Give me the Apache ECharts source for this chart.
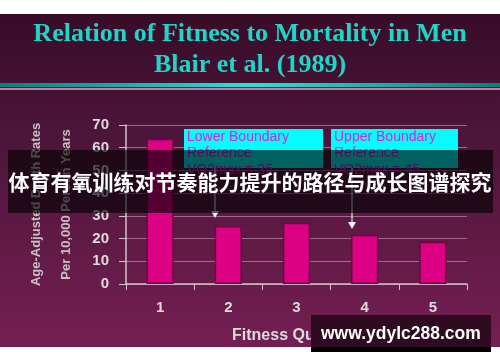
<!DOCTYPE html>
<html><head><meta charset="utf-8">
<script src="https://cdn.jsdelivr.net/npm/echarts@6/dist/echarts.min.js"></script>
<style>
html,body{margin:0;padding:0;background:#fff;}
#c{width:500px;height:362px;background:linear-gradient(to bottom,#fff 0,#fff 14px,#380c28 14px,#4a1438 120px,#741f52 347px,#fff 347px,#fff 362px);}
</style></head><body><div id="c"></div>
<script>
var categories = ['1','2','3','4','5'];
var deathRates = [64, 25.5, 27, 21.7, 18.6];
var yTicks = {min:0, max:70, interval:10};
var titleLines = ['Relation of Fitness to Mortality in Men','Blair et al. (1989)'];
var yNames = ['Age-Adjusted Death Rates','Per 10,000 Person Years'];
var xName = 'Fitness Quintiles';
var lowerBox = ['Lower Boundary','Reference','VO2max = 35'];
var upperBox = ['Upper Boundary','Reference','VO2max = 45'];
var banner = '体育有氧训练对节奏能力提升的路径与成长图谱探究';
var watermark = 'www.ydylc288.com';

var chart = echarts.init(document.getElementById('c'));
var axisCol = '#d0c4cc';
var txt = '#dcdcdc';
function boxText(lines,x){
  return lines.map(function(s,i){
    return {type:'text',left:x,top:130+i*16.5,z:50,
      style:{text:s,fill:'#e01ee0',font:'14px "Liberation Sans", Arial'}};
  });
}
function arrow(x,y1,y2){
  return [
    {type:'line',z:50,shape:{x1:x,y1:y1,x2:x,y2:y2-6},style:{stroke:'#e8e8e8',lineWidth:1.2}},
    {type:'polygon',z:50,shape:{points:[[x-4,y2-7],[x+4,y2-7],[x,y2]]},style:{fill:'#f0f0f0'}}
  ];
}
var graphics = [
  {type:'text',left:'center',top:21,z:50,style:{text:titleLines[0],fill:'#1ed6c6',font:'bold 26px "Liberation Serif", serif'}},
  {type:'text',left:'center',top:52,z:50,style:{text:titleLines[1],fill:'#1ed6c6',font:'bold 26px "Liberation Serif", serif'}},
  {type:'rect',z:50,shape:{x:0,y:83,width:500,height:4},style:{fill:new echarts.graphic.LinearGradient(0,0,1,0,[{offset:0,color:'#0c7e76'},{offset:0.5,color:'#1ee8d8'},{offset:1,color:'#0c7e76'}])}},
  {type:'rect',z:50,shape:{x:0,y:88,width:500,height:2},style:{fill:'#c87aa8'}},
  {type:'rect',z:49,shape:{x:184,y:129,width:139,height:39},style:{fill:'#00ffff'}},
  {type:'rect',z:49,shape:{x:331,y:129,width:127,height:39},style:{fill:'#00ffff'}}
].concat(boxText(lowerBox,187)).concat(boxText(upperBox,334))
 .concat(arrow(215,168,218)).concat(arrow(352,168,229))
 .concat([
  {type:'rect',z:90,shape:{x:8,y:150,width:485,height:63},style:{fill:'rgba(0,0,0,0.62)'}},
  {type:'text',left:'center',top:172,z:91,style:{text:banner,fill:'#ffffff',font:'bold 21px "Noto Sans CJK SC", sans-serif'}},
  {type:'rect',z:90,shape:{x:311,y:315,width:180,height:32},style:{fill:'#2e0b20'}},
  {type:'rect',z:90,shape:{x:311,y:347,width:180,height:5},style:{fill:'#000'}},
  {type:'text',left:321,top:325,z:91,style:{text:watermark,fill:'#ffffff',font:'bold 17.5px "Liberation Sans", sans-serif'}}
]);

chart.setOption({
  animation:false,
  backgroundColor:'transparent',
  grid:{left:126,right:33,top:125,bottom:78,containLabel:false,outerBoundsMode:'none'},
  xAxis:{type:'category',data:categories,
    name:xName,nameLocation:'middle',nameGap:44,
    nameTextStyle:{color:txt,fontWeight:'bold',fontSize:16,fontFamily:'Liberation Sans'},
    axisLine:{lineStyle:{color:axisCol,width:1.5}},
    axisTick:{show:true,length:6,lineStyle:{color:axisCol}},
    axisLabel:{color:txt,fontWeight:'bold',fontSize:15,fontFamily:'Liberation Sans',margin:16},
    splitLine:{show:false}},
  yAxis:{type:'value',min:yTicks.min,max:yTicks.max,interval:yTicks.interval,
    name:yNames.join('\n'),nameLocation:'middle',nameGap:39,
    nameTextStyle:{color:'#c8c0c6',fontWeight:'bold',fontSize:13,fontFamily:'Liberation Sans',lineHeight:30},
    axisLine:{show:true,lineStyle:{color:axisCol,width:1.5}},
    axisTick:{show:true,length:7,lineStyle:{color:axisCol}},
    axisLabel:{color:txt,fontWeight:'bold',fontSize:15,fontFamily:'Liberation Sans',margin:17},
    splitLine:{lineStyle:{color:'rgba(220,170,205,0.55)',width:1.2}}},
  series:[{type:'bar',data:deathRates,barWidth:'40%',
    itemStyle:{color:'#dc0084',borderColor:'#6a0a42',borderWidth:1.5}}],
  graphic:graphics
});
</script></body></html>
